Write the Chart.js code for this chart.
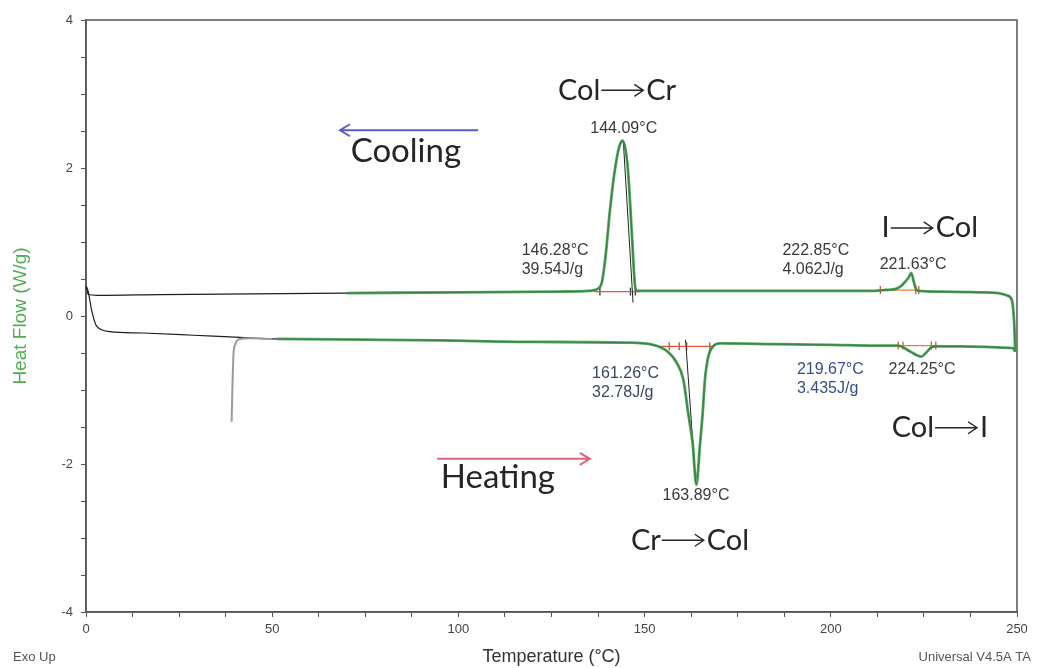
<!DOCTYPE html>
<html>
<head>
<meta charset="utf-8">
<title>DSC – heat flow vs temperature</title>
<script src="https://cdn.jsdelivr.net/npm/chart.js@4.4.1/dist/chart.umd.min.js"></script>
<style>
  html, body { margin: 0; padding: 0; background: #ffffff; }
  #wrap { width: 1037px; height: 668px; position: relative; }
</style>
</head>
<body>
<div id="wrap"><canvas id="dsc" width="1037" height="668"></canvas></div>
<script>
// ---- Cooling trace (upper curve): temperature (°C) and heat flow (W/g)
const coolT  = [0.1, 0.6, 3, 20, 45, 70, 100, 127, 135, 136.5, 137.5, 138.5, 139.5, 140.7, 141.8, 142.7, 143.4, 144.1, 144.8, 145.4, 145.9, 146.3, 146.7, 147.0, 147.4, 147.9, 155, 175, 200, 212, 214.1, 216, 217.7, 219, 219.9, 220.9, 221.6, 222.3, 222.9, 223.6, 230, 240, 245, 247.2, 248.6, 249.0, 249.3, 249.5];
const coolHF = [0.40, 0.29, 0.28, 0.29, 0.30, 0.31, 0.32, 0.33, 0.34, 0.35, 0.37, 0.45, 0.80, 1.43, 1.90, 2.18, 2.32, 2.37, 2.27, 2.05, 1.70, 1.35, 1.00, 0.72, 0.42, 0.34, 0.34, 0.34, 0.34, 0.34, 0.35, 0.355, 0.37, 0.41, 0.46, 0.52, 0.58, 0.46, 0.36, 0.34, 0.33, 0.32, 0.31, 0.28, 0.22, 0.08, -0.15, -0.48];

// ---- Heating trace (lower curve)
const heatT  = [0.1, 0.6, 1.5, 2.9, 6.4, 15.4, 28.8, 41.4, 51.2, 75, 95, 120, 145, 152.3, 155.9, 158.6, 160.4, 161.7, 162.9, 163.9, 164.9, 165.6, 166.2, 167.1, 168.4, 170.2, 185, 200, 212, 218.1, 221.3, 223.1, 224.3, 225.7, 227.1, 228.4, 235, 243, 248, 249.1, 249.5];
const heatHF = [0.40, 0.33, 0.08, -0.14, -0.21, -0.23, -0.26, -0.29, -0.31, -0.32, -0.33, -0.35, -0.36, -0.39, -0.47, -0.63, -0.86, -1.31, -1.72, -2.28, -1.72, -1.31, -0.86, -0.55, -0.41, -0.37, -0.38, -0.39, -0.40, -0.40, -0.48, -0.53, -0.55, -0.49, -0.42, -0.41, -0.41, -0.42, -0.43, -0.44, -0.48];

// ---- Short grey start-up transient near 40 °C
const greyT  = [39.1, 39.3, 39.6, 40.1, 41.2, 44, 50];
const greyHF = [-1.43, -1.0, -0.52, -0.38, -0.31, -0.30, -0.31];

// ---- Onset tangents
const coolTanT  = [144.3, 146.9];
const coolTanHF = [2.35, 0.18];
const heatTanT  = [161.0, 163.7];
const heatTanHF = [-0.32, -2.25];

// ---- Peak integration limits and cursor ticks
const coolLimT   = [136.5, 148.5];
const coolLimHF  = [0.33, 0.33];
const coolTickT  = [138.0, 146.2, 147.5];
const coolTickHF = [0.33, 0.33, 0.33];
const iCoolLimT   = [213.3, 223.6];
const iCoolLimHF  = [0.35, 0.35];
const iCoolTickT  = [213.3, 222.8, 223.6];
const iCoolTickHF = [0.35, 0.35, 0.35];
const heatLimT   = [154.2, 168.4];
const heatLimHF  = [-0.41, -0.41];
const heatTickT  = [156.6, 159.3, 161.3, 167.5];
const heatTickHF = [-0.41, -0.41, -0.41, -0.41];
const iHeatLimT   = [217.8, 229.3];
const iHeatLimHF  = [-0.40, -0.40];
const iHeatTickT  = [218.1, 219.4, 227.0, 228.2];
const iHeatTickHF = [-0.40, -0.40, -0.40, -0.40];

// ---- Axis ticks
const xTickStep = 12.5, xLabelEvery = 50;
const yTickStep = 0.5,  yLabelEvery = 2;

// ---- Text on the plot (data coordinates)
const peakNotes = [
  { lines: ['144.09°C'],             x: 144.4, y: 2.53,  align: 'center' },
  { lines: ['146.28°C', '39.54J/g'], x: 117.0, y: 0.89,  align: 'left' },
  { lines: ['222.85°C', '4.062J/g'], x: 187.0, y: 0.89,  align: 'left' },
  { lines: ['221.63°C'],             x: 222.1, y: 0.70,  align: 'center' },
  { lines: ['161.26°C', '32.78J/g'], x: 135.9, y: -0.78, align: 'left', color: '#3a4560' },
  { lines: ['219.67°C', '3.435J/g'], x: 190.9, y: -0.73, align: 'left', color: '#34508a' },
  { lines: ['224.25°C'],             x: 224.5, y: -0.72, align: 'center' },
  { lines: ['163.89°C'],             x: 163.8, y: -2.43, align: 'center' }
];
const transitions = [
  { from: 'Col', to: 'Cr',  x: 142.6, y: 3.05 },
  { from: 'I',   to: 'Col', x: 226.6, y: 1.19 },
  { from: 'Col', to: 'I',   x: 229.3, y: -1.51 },
  { from: 'Cr',  to: 'Col', x: 162.2, y: -3.03 }
];
const runArrows = [
  { text: 'Cooling', tx: 85.9,  ty: 2.22,  x0: 105.3, x1: 68.2,  y: 2.51,  color: '#5c5cc9' },
  { text: 'Heating', tx: 110.6, ty: -2.18, x0: 94.3,  x1: 135.3, y: -1.93, color: '#e0627a' }
];

const pts = (xs, ys) => xs.map((x, i) => ({ x: x, y: ys[i] }));
const from = (xs, ys, t0) => pts(xs, ys).filter(p => p.x >= t0);

const LABEL_FONT = "29px Lato, 'Open Sans', sans-serif";
const RUN_FONT = "33px Lato, 'Open Sans', sans-serif";
const SMALL_FONT = "16px 'Liberation Sans', Arial, sans-serif";

function lineSet(data, color, width, extra) {
  return Object.assign({
    type: 'line', data: data, borderColor: color, borderWidth: width,
    pointRadius: 0, fill: false, tension: 0
  }, extra || {});
}
function tickSet(data, color) {
  return {
    type: 'line', data: data, showLine: false, borderColor: color,
    pointStyle: 'line', pointRotation: 90, pointRadius: 4,
    pointBorderWidth: 1.3, pointBorderColor: color
  };
}

const plotText = {
  id: 'plotText',
  beforeDatasetsDraw(chart) {
    const { ctx, chartArea: a } = chart;
    ctx.save();
    ctx.strokeStyle = '#555';
    ctx.lineWidth = 1.5;
    ctx.strokeRect(a.left, a.top, a.right - a.left, a.bottom - a.top);
    ctx.restore();
  },
  afterDraw(chart) {
    const { ctx, scales: { x: xs, y: ys } } = chart;
    const px = v => xs.getPixelForValue(v);
    const py = v => ys.getPixelForValue(v);
    ctx.save();

    // peak temperatures / enthalpies
    ctx.font = SMALL_FONT;
    ctx.textBaseline = 'middle';
    peakNotes.forEach(n => {
      ctx.fillStyle = n.color || '#3a3a3a';
      ctx.textAlign = n.align;
      n.lines.forEach((s, i) => ctx.fillText(s, px(n.x), py(n.y) + i * 19));
    });

    // phase transition labels with long arrows
    const arrowLen = 42;
    ctx.font = LABEL_FONT;
    ctx.fillStyle = '#262626';
    ctx.strokeStyle = '#262626';
    transitions.forEach(t => {
      const w1 = ctx.measureText(t.from).width;
      const w2 = ctx.measureText(t.to).width;
      const total = w1 + arrowLen + w2 + 4;
      const x = px(t.x) - total / 2;
      const y = py(t.y);
      ctx.textAlign = 'left';
      ctx.fillText(t.from, x, y);
      const a0 = x + w1 + 1, a1 = a0 + arrowLen;
      ctx.lineWidth = 1.4;
      ctx.beginPath();
      ctx.moveTo(a0, y); ctx.lineTo(a1, y);
      ctx.moveTo(a1 - 9, y - 6); ctx.lineTo(a1, y); ctx.lineTo(a1 - 9, y + 6);
      ctx.stroke();
      ctx.fillText(t.to, a1 + 3, y);
    });

    // cooling / heating direction arrows
    ctx.font = RUN_FONT;
    runArrows.forEach(r => {
      ctx.strokeStyle = r.color;
      ctx.lineWidth = 2;
      const x0 = px(r.x0), x1 = px(r.x1), y = py(r.y);
      const dir = Math.sign(x1 - x0);
      ctx.beginPath();
      ctx.moveTo(x0, y); ctx.lineTo(x1, y);
      ctx.moveTo(x1 - dir * 10, y - 6); ctx.lineTo(x1, y); ctx.lineTo(x1 - dir * 10, y + 6);
      ctx.stroke();
      ctx.fillStyle = '#262626';
      ctx.textAlign = 'center';
      ctx.fillText(r.text, px(r.tx), py(r.ty));
    });

    // footer notes
    ctx.font = "13px 'Liberation Sans', Arial, sans-serif";
    ctx.fillStyle = '#555';
    ctx.textAlign = 'left';
    ctx.fillText('Exo Up', 13, 657);
    ctx.textAlign = 'right';
    ctx.fillText('Universal V4.5A TA', 1031, 657);
    ctx.restore();
  }
};

new Chart(document.getElementById('dsc'), {
  type: 'line',
  data: {
    datasets: [
      lineSet(from(coolT, coolHF, 68), 'rgba(58,150,72,0.85)', 2.8, { cubicInterpolationMode: 'monotone' }),
      lineSet(from(heatT, heatHF, 42), 'rgba(58,150,72,0.85)', 2.8, { cubicInterpolationMode: 'monotone' }),
      lineSet(pts(greyT, greyHF), '#9a9a9a', 2, { cubicInterpolationMode: 'monotone' }),
      lineSet(pts(coolT, coolHF), '#1e1e1e', 1.2, { cubicInterpolationMode: 'monotone' }),
      lineSet(pts(heatT, heatHF), '#1e1e1e', 1.2, { cubicInterpolationMode: 'monotone' }),
      lineSet(pts(coolTanT, coolTanHF), '#222', 1),
      lineSet(pts(heatTanT, heatTanHF), '#222', 1),
      lineSet(pts(coolLimT, coolLimHF), '#e5533d', 1.3),
      lineSet(pts(iCoolLimT, iCoolLimHF), '#e2803f', 1.3),
      lineSet(pts(heatLimT, heatLimHF), '#e5533d', 1.3),
      lineSet(pts(iHeatLimT, iHeatLimHF), '#e2803f', 1.3),
      tickSet(pts(coolTickT, coolTickHF), '#333'),
      tickSet(pts(iCoolTickT, iCoolTickHF), '#c0602a'),
      tickSet(pts(heatTickT, heatTickHF), '#b4503a'),
      tickSet(pts(iHeatTickT, iHeatTickHF), '#c0602a')
    ]
  },
  options: {
    responsive: false,
    animation: false,
    events: [],
    layout: { padding: { top: 20, right: 20, left: 0, bottom: 0 } },
    plugins: { legend: { display: false }, tooltip: { enabled: false } },
    scales: {
      x: {
        type: 'linear', min: 0, max: 250,
        afterFit: s => { s.height = 56; },
        ticks: {
          stepSize: xTickStep, autoSkip: false, maxRotation: 0, padding: 5,
          color: '#444', font: { family: "'Liberation Sans', Arial, sans-serif", size: 13 },
          callback: v => (v % xLabelEvery === 0 ? String(v) : '')
        },
        grid: { drawOnChartArea: false, drawTicks: true, tickLength: 5, color: '#555' },
        border: { color: '#555', width: 1.5 },
        title: {
          display: true, text: 'Temperature (°C)', color: '#333',
          font: { family: "'Liberation Sans', Arial, sans-serif", size: 18 },
          padding: { top: 0, bottom: 0 }
        }
      },
      y: {
        type: 'linear', min: -4, max: 4,
        afterFit: s => { s.width = 86; },
        ticks: {
          stepSize: yTickStep, autoSkip: false, padding: 8,
          color: '#444', font: { family: "'Liberation Sans', Arial, sans-serif", size: 13 },
          callback: v => (v % yLabelEvery === 0 ? String(v) : '')
        },
        grid: { drawOnChartArea: false, drawTicks: true, tickLength: 5, color: '#555' },
        border: { color: '#555', width: 1.5 },
        title: {
          display: true, text: 'Heat Flow (W/g)', color: '#4fae52',
          font: { family: "'Liberation Sans', Arial, sans-serif", size: 19 },
          padding: { top: 9, bottom: 0 }
        }
      }
    }
  },
  plugins: [plotText]
});
</script>
</body>
</html>
